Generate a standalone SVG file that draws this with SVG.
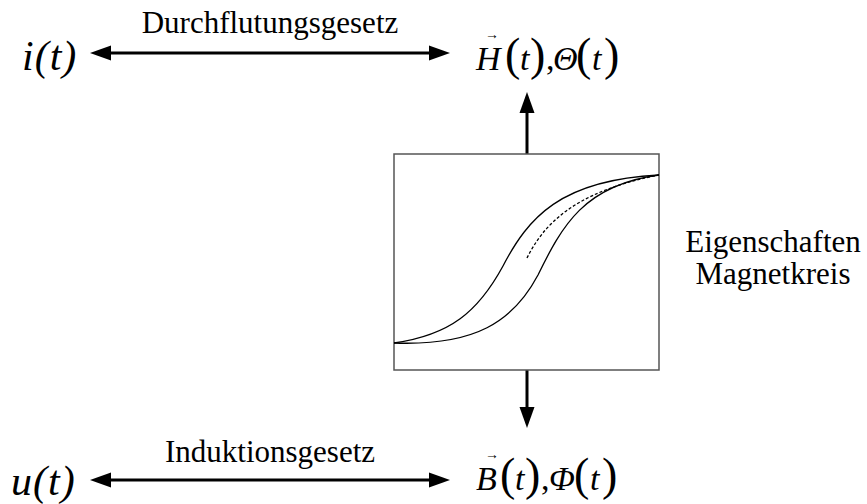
<svg xmlns="http://www.w3.org/2000/svg" width="867" height="504" viewBox="0 0 867 504">
<defs>
<style>
text{font-family:'Liberation Serif','Times New Roman',serif}
.lbl{font-size:31px;fill:#000}
.m{font-style:italic;fill:#000}
.p{fill:#000}
.conn{stroke:#000;stroke-width:3;fill:none}
.head{fill:#000}
.curve{stroke:#000;stroke-width:1.3;fill:none}
</style>
</defs>
<rect width="867" height="504" fill="#fff"/>
<g id="connectors">
<line class="conn" x1="105" y1="53" x2="435" y2="53"/>
<polygon class="head" points="90,53 111,45.5 111,60.5"/>
<polygon class="head" points="450,53 429,45.5 429,60.5"/>
<line class="conn" x1="105" y1="480" x2="435" y2="480"/>
<polygon class="head" points="90,480 111,472.5 111,487.5"/>
<polygon class="head" points="450,480 429,472.5 429,487.5"/>
<line class="conn" x1="527" y1="154" x2="527" y2="108"/>
<polygon class="head" points="527,92 519.5,113 534.5,113"/>
<line class="conn" x1="527" y1="370" x2="527" y2="412"/>
<polygon class="head" points="527,428 519.5,407 534.5,407"/>
</g>
<g id="label-durchflutung"><text class="lbl" font-family="Liberation Serif, serif" x="270" y="33" text-anchor="middle">Durchflutungsgesetz</text></g>
<g id="label-induktion"><text class="lbl" font-family="Liberation Serif, serif" x="270" y="462" text-anchor="middle">Induktionsgesetz</text></g>
<g id="node-i"><text class="m" font-family="Liberation Serif, serif" x="22" y="70" font-size="42" letter-spacing="1">i(t)</text></g>
<g id="node-u"><text class="m" font-family="Liberation Serif, serif" x="11" y="495" font-size="42" letter-spacing="1">u(t)</text></g>
<g id="node-H">
<text class="p" x="485" y="39" font-size="14" font-family="DejaVu Serif, serif">→</text>
<text y="70" font-family="Liberation Serif, serif"><tspan class="m" x="476" font-size="34">H</tspan><tspan class="p" x="505" font-size="46">(</tspan><tspan class="m" x="520" font-size="34">t</tspan><tspan class="p" x="530" font-size="46">)</tspan><tspan class="p" x="546" font-size="34">,</tspan><tspan class="m" x="553" font-size="34">Θ</tspan><tspan class="p" x="576" font-size="46">(</tspan><tspan class="m" x="592" font-size="34">t</tspan><tspan class="p" x="604" font-size="46">)</tspan></text>
</g>
<g id="node-B">
<text class="p" x="485" y="459" font-size="14" font-family="DejaVu Serif, serif">→</text>
<text y="490" font-family="Liberation Serif, serif"><tspan class="m" x="476" font-size="34">B</tspan><tspan class="p" x="500" font-size="46">(</tspan><tspan class="m" x="515" font-size="34">t</tspan><tspan class="p" x="525" font-size="46">)</tspan><tspan class="p" x="541" font-size="34">,</tspan><tspan class="m" x="549" font-size="34">Φ</tspan><tspan class="p" x="574" font-size="46">(</tspan><tspan class="m" x="590" font-size="34">t</tspan><tspan class="p" x="602" font-size="46">)</tspan></text>
</g>
<g id="node-magnetkreis">
<rect x="394" y="154" width="265" height="216" fill="#fff" stroke="#555" stroke-width="1.5"/>
<path class="curve" d="M394,343 C450,335 478,312 503,266 C528,218 560,180 659,175"/>
<path class="curve" d="M394,343 C475,346 513,322 538,275 C562,226 584,185 659,175"/>
<path class="curve" d="M527,258 C543,226 572,192 659,175" stroke-dasharray="3,2"/>
</g>
<g id="label-eigenschaften"><text class="lbl" font-family="Liberation Serif, serif" x="773" y="252" text-anchor="middle" font-size="30">Eigenschaften</text><text class="lbl" font-family="Liberation Serif, serif" x="773" y="284" text-anchor="middle" font-size="30">Magnetkreis</text></g>
</svg>
